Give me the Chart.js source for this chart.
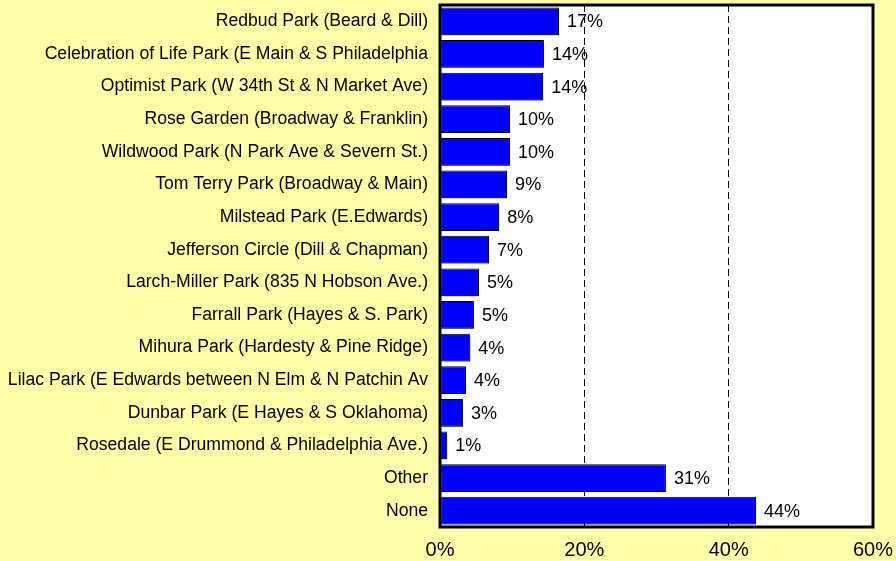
<!DOCTYPE html>
<html>
<head>
    <title>Park usage</title>
    <script src="https://cdn.jsdelivr.net/npm/chart.js"></script>
    <style>
        html, body {
            margin: 0;
            padding: 0;
            background-color: #FFFFAA;
        }
        #chartBox {
            position: relative;
            width: 896px;
            height: 561px;
        }
    </style>
</head>
<body>
    <div id="chartBox">
        <canvas id="parkChart" width="896" height="561"></canvas>
    </div>
    <script>
        // values (percent of answers)
        const parks = [
            "Redbud Park (Beard & Dill)",
            "Celebration of Life Park (E Main & S Philadelphia",
            "Optimist Park (W 34th St & N Market Ave)",
            "Rose Garden (Broadway & Franklin)",
            "Wildwood Park (N Park Ave & Severn St.)",
            "Tom Terry Park (Broadway & Main)",
            "Milstead Park (E.Edwards)",
            "Jefferson Circle (Dill & Chapman)",
            "Larch-Miller Park (835 N Hobson Ave.)",
            "Farrall Park (Hayes & S. Park)",
            "Mihura Park (Hardesty & Pine Ridge)",
            "Lilac Park (E Edwards between N Elm & N Patchin Av",
            "Dunbar Park (E Hayes & S Oklahoma)",
            "Rosedale (E Drummond & Philadelphia Ave.)",
            "Other",
            "None"
        ];
        const shares = [16.5, 14.4, 14.3, 9.7, 9.7, 9.3, 8.2, 6.8, 5.4, 4.7, 4.2, 3.6, 3.2, 1.0, 31.3, 43.8];
        const xTicks = [0, 20, 40, 60];

        const fontName = "'Liberation Sans', Arial, sans-serif";

        // white plot area + thick black frame, like the spreadsheet chart
        const plotFrame = {
            id: "plotFrame",
            beforeDraw(chart) {
                const a = chart.chartArea;
                const ctx = chart.ctx;
                ctx.save();
                ctx.fillStyle = "#FFFFFF";
                ctx.fillRect(a.left, a.top, a.right - a.left, a.bottom - a.top);
                ctx.restore();
            },
            beforeDatasetsDraw(chart) {
                const ctx = chart.ctx;
                ctx.save();
                ctx.shadowColor = "rgba(0,0,0,0.35)";
                ctx.shadowOffsetX = 2;
                ctx.shadowOffsetY = 2;
                ctx.shadowBlur = 0;
            },
            afterDatasetsDraw(chart) {
                const ctx = chart.ctx;
                ctx.restore();
                const a = chart.chartArea;

                // value labels
                ctx.save();
                ctx.font = "18px " + fontName;
                ctx.fillStyle = "#000000";
                ctx.textBaseline = "middle";
                ctx.textAlign = "left";
                chart.getDatasetMeta(0).data.forEach((bar, i) => {
                    ctx.fillText(Math.round(shares[i]) + "%", bar.x + 8, bar.y + 1);
                });

                ctx.strokeStyle = "#000000";
                ctx.lineWidth = 3;
                ctx.strokeRect(a.left, a.top, a.right - a.left, a.bottom - a.top);
                ctx.restore();
            }
        };

        new Chart(document.getElementById("parkChart"), {
            type: "bar",
            data: {
                labels: parks,
                datasets: [{
                    data: shares,
                    backgroundColor: "#0000FF",
                    borderColor: "#000000",
                    borderWidth: 1,
                    borderSkipped: false,
                    categoryPercentage: 1.0,
                    barPercentage: 0.85
                }]
            },
            options: {
                indexAxis: "y",
                responsive: false,
                devicePixelRatio: 1,
                animation: false,
                layout: {
                    padding: { top: 5, right: 23, bottom: 0, left: 0 }
                },
                plugins: {
                    legend: { display: false },
                    tooltip: { enabled: false }
                },
                scales: {
                    x: {
                        min: 0,
                        max: 60,
                        afterBuildTicks(scale) {
                            scale.ticks = xTicks.map(v => ({ value: v }));
                        },
                        afterFit(scale) {
                            scale.height = 34;
                            scale.paddingLeft = 0;
                            scale.paddingRight = 0;
                        },
                        ticks: {
                            callback: v => v + "%",
                            color: "#000000",
                            font: { family: fontName, size: 20 },
                            padding: 11,
                            maxRotation: 0
                        },
                        grid: {
                            color: "#000000",
                            lineWidth: 1,
                            drawTicks: false
                        },
                        border: {
                            display: false,
                            dash: [7, 4]
                        }
                    },
                    y: {
                        afterFit(scale) {
                            scale.width = 440;
                            scale.paddingTop = 0;
                            scale.paddingBottom = 0;
                        },
                        ticks: {
                            color: "#000000",
                            font: { family: fontName, size: 17.6 },
                            padding: 12,
                            autoSkip: false
                        },
                        grid: { display: false, drawTicks: false },
                        border: { display: false }
                    }
                }
            },
            plugins: [plotFrame]
        });
    </script>
</body>
</html>
